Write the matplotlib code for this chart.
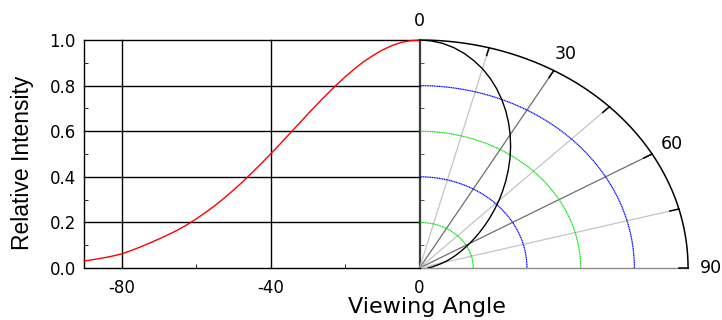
import numpy as np
import matplotlib
matplotlib.use("Agg")
import matplotlib.pyplot as plt
from matplotlib.ticker import MultipleLocator, FixedLocator

plt.rcParams['axes.unicode_minus'] = False

# relative intensity, every 2.5 degrees (symmetric pattern)
angles = [0, 2.5, 5, 7.5, 10, 12.5, 15, 17.5, 20, 22.5, 25, 27.5, 30, 32.5, 35,
          37.5, 40, 42.5, 45, 47.5, 50, 52.5, 55, 57.5, 60, 62.5, 65, 67.5, 70,
          72.5, 75, 77.5, 80, 82.5, 85, 87.5, 90]
intensity = [1.0, 0.997, 0.989, 0.975, 0.956, 0.932, 0.905, 0.873, 0.838, 0.800,
             0.760, 0.718, 0.675, 0.631, 0.587, 0.543, 0.500, 0.458, 0.418, 0.378,
             0.341, 0.306, 0.273, 0.243, 0.215, 0.189, 0.166, 0.146, 0.127, 0.109,
             0.092, 0.076, 0.062, 0.052, 0.044, 0.037, 0.031]

x_ticks = [-80, -40, 0]
x_minor_ticks = [-60, -20]
x_tick_labels = ['-80', '-40', '0']
y_ticks = [0.0, 0.2, 0.4, 0.6, 0.8, 1.0]
y_tick_labels = ['0.0', '0.2', '0.4', '0.6', '0.8', '1.0']

ring_radii = [0.2, 0.4, 0.6, 0.8]
ring_colors = ['#00e600', '#0000ff', '#00e600', '#0000ff']
spoke_angles = [15, 30, 45, 60, 75]
spoke_colors = ['#c4c4c4', '#6e6e6e', '#c4c4c4', '#6e6e6e', '#c4c4c4']
angle_labels = [0, 30, 60, 90]

RX = 72.08  # horizontal half-width of the polar quarter, in x data units


def polar_xy(theta_deg, r):
    t = np.radians(np.asarray(theta_deg, dtype=float))
    r = np.asarray(r, dtype=float)
    return RX * r * np.sin(t), r * np.cos(t)


fig = plt.figure(figsize=(7.22, 3.2), dpi=100)
ax = fig.add_axes([0.1168, 0.1625, 0.8362, 0.7125])
ax.set_xlim(-90, RX)
ax.set_ylim(0, 1)
for s in ax.spines.values():
    s.set_visible(False)

tick_font = dict(family='DejaVu Sans', size=12)

# cartesian half: frame and grid
ax.plot([-90, -90], [0, 1], color='black', lw=1.0, clip_on=False)
ax.plot([-90, 0], [0, 0], color='black', lw=1.0, clip_on=False)
for yv in y_ticks[1:]:
    ax.plot([-90, 0], [yv, yv], color='black', lw=1.0, clip_on=False)
for xv in x_ticks[:-1]:
    ax.plot([xv, xv], [0, 1], color='black', lw=1.0, clip_on=False)

left_x = [-a for a in angles]
ax.plot(left_x, intensity, color='red', lw=1.0, zorder=5, clip_on=False)

# polar half
th = np.linspace(0, 90, 300)
for rr, cc in zip(ring_radii, ring_colors):
    px, py = polar_xy(th, np.full_like(th, rr))
    ax.plot(px, py, color=cc, lw=0.9, ls=(0, (1.0, 0.4)), zorder=2)
for a, cc in zip(spoke_angles, spoke_colors):
    px, py = polar_xy([a, a], [0, 1])
    ax.plot(px, py, color=cc, lw=0.9, zorder=1)
px, py = polar_xy([90, 90], [0, 1])
ax.plot(px, py, color='#8c8c8c', lw=1.0, zorder=1, clip_on=False)
px, py = polar_xy(th, np.ones_like(th))
ax.plot(px, py, color='black', lw=1.1, zorder=4, clip_on=False)
for a in spoke_angles + [90]:
    px, py = polar_xy([a, a], [0.965, 1.0])
    ax.plot(px, py, color='black', lw=1.1, zorder=4, clip_on=False)
px, py = polar_xy(angles, intensity)
ax.plot(px, py, color='black', lw=1.0, zorder=5)
for a in angle_labels:
    px, py = polar_xy(a, 1.085)
    ax.text(px, py, str(a), ha='center', va='center', family='DejaVu Sans', size=12.5)

# ticks
ax.set_xticks(x_ticks)
ax.set_xticklabels(x_tick_labels, **tick_font)
ax.xaxis.set_minor_locator(FixedLocator(x_minor_ticks))
ax.set_yticks(y_ticks)
ax.set_yticklabels(y_tick_labels, **tick_font)
ax.yaxis.set_minor_locator(MultipleLocator(0.1))
ax.tick_params(which='both', direction='in', top=False, right=False, color='black')
ax.tick_params(axis='x', which='major', length=0, pad=8)
ax.tick_params(axis='x', which='minor', length=3)
ax.tick_params(axis='y', which='major', length=0, pad=6)
ax.tick_params(axis='y', which='minor', length=3)

sec = ax.secondary_yaxis(90 / (90 + RX))
sec.spines['right'].set_color('#3c3c3c')
sec.spines['right'].set_linewidth(1.6)
sec.yaxis.set_major_locator(MultipleLocator(0.2))
sec.yaxis.set_minor_locator(MultipleLocator(0.1))
sec.tick_params(which='both', direction='out', labelright=False, color='#3c3c3c')
sec.tick_params(which='major', length=0)
sec.tick_params(which='minor', length=3)

ax.set_ylabel('Relative Intensity', family='Liberation Sans', size=16.5)
ax.yaxis.label.set(va='baseline', ha='center')
ax.yaxis.set_label_coords(-0.091, 0.4605)
ax.set_xlabel('Viewing Angle', family='DejaVu Sans', size=16)
ax.xaxis.label.set(va='baseline', ha='center')
ax.xaxis.set_label_coords(0.567, -0.196)

fig.savefig('out.png', dpi=100)
